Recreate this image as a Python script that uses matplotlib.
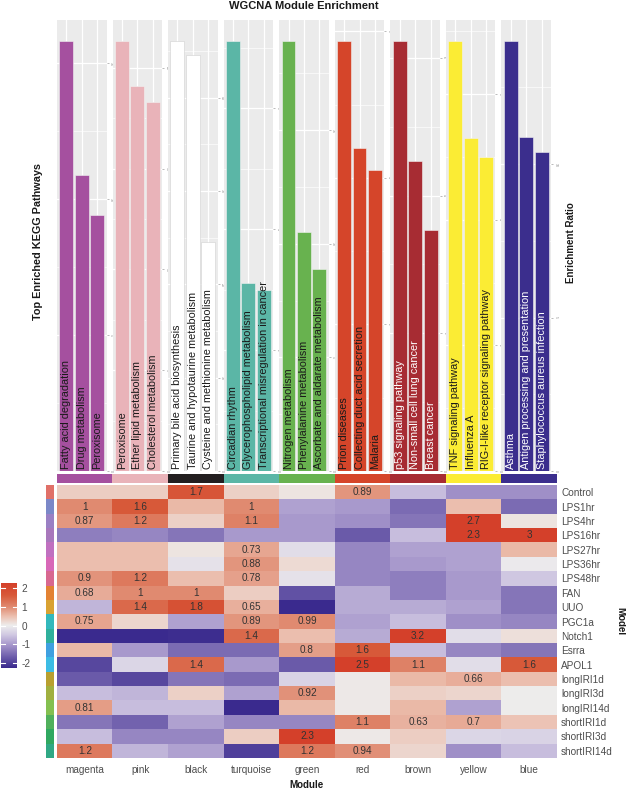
import matplotlib
matplotlib.use('Agg')
import matplotlib.pyplot as plt
import numpy as np
from matplotlib.colors import LinearSegmentedColormap, Normalize, to_rgb
from matplotlib.ticker import MultipleLocator

plt.rcParams['font.family'] = ['Liberation Sans', 'DejaVu Sans']
plt.rcParams['axes.unicode_minus'] = False

# ---------------- data ----------------
modules = ["magenta", "pink", "black", "turquoise", "green", "red", "brown", "yellow", "blue"]
module_colors = ["#A5509F", "#E9B3B9", "#FFFFFF", "#5BB6A6", "#68B24F", "#D5452A", "#A72C33", "#FBEC34", "#3B2E8D"]
strip_colors = ["#A5509F", "#E9B3B9", "#231F20", "#5BB6A6", "#68B24F", "#D5452A", "#A72C33", "#FBEC34", "#3B2E8D"]

path_magenta = ["Fatty acid degradation", "Drug metabolism", "Peroxisome"]
path_pink = ["Peroxisome", "Ether lipid metabolism", "Cholesterol metabolism"]
path_black = ["Primary bile acid biosynthesis", "Taurine and hypotaurine metabolism", "Cysteine and methionine metabolism"]
path_turquoise = ["Circadian rhythm", "Glycerophospholipid metabolism", "Transcriptional misregulation in cancer"]
path_green = ["Nitrogen metabolism", "Phenylalanine metabolism", "Ascorbate and aldarate metabolism"]
path_red = ["Prion diseases", "Collecting duct acid secretion", "Malaria"]
path_brown = ["p53 signaling pathway", "Non-small cell lung cancer", "Breast cancer"]
path_yellow = ["TNF signaling pathway", "Influenza A", "RIG-I-like receptor signaling pathway"]
path_blue = ["Asthma", "Antigen processing and presentation", "Staphylococcus aureus infection"]

er_magenta = [15.8, 10.9, 9.4]
er_pink = [21.3, 19.1, 18.3]
er_black = [46.0, 44.6, 24.5]
er_turquoise = [7.1, 3.1, 3.0]
er_green = [18.9, 10.5, 8.9]
er_red = [5.86, 4.4, 4.1]
er_brown = [6.24, 4.5, 3.5]
er_yellow = [6.84, 5.3, 5.0]
er_blue = [14.0, 10.9, 10.4]

models = ["Control", "LPS1hr", "LPS4hr", "LPS16hr", "LPS27hr", "LPS36hr", "LPS48hr", "FAN", "UUO",
          "PGC1a", "Notch1", "Esrra", "APOL1", "longIRI1d", "longIRI3d", "longIRI14d",
          "shortIRI1d", "shortIRI3d", "shortIRI14d"]
model_colors = ["#E07068", "#7B88C8", "#9A80C4", "#A878BC", "#C070C0", "#D868B8", "#D86890",
                "#E38233", "#D9A232", "#33B8BC", "#2FB09C", "#3FA0E0", "#3DBCE4", "#B8A030",
                "#A0B040", "#84C050", "#50B05C", "#30A860", "#30A884"]

# z-scores: rows = models, columns = modules
zscores = [
    [0.35, 0.35, 1.7, 0.3, 0.1, 0.89, -0.6, -1.1, -1.1],
    [1.0, 1.6, 0.55, 1.0, -0.9, -1.0, -1.5, 0.5, -1.5],
    [0.87, 1.2, 0.3, 1.1, -1.0, -1.1, -1.4, 2.7, 0.1],
    [-1.3, -1.2, -1.4, -1.0, -1.0, -1.7, -0.6, 2.3, 3.0],
    [0.5, 0.5, 0.1, 0.73, -0.2, -1.2, -0.9, -0.9, 0.55],
    [0.5, 0.5, -0.15, 0.88, 0.2, -1.2, -1.0, -0.9, -0.05],
    [0.9, 1.2, 0.5, 0.78, -0.15, -1.2, -1.3, -1.0, -0.5],
    [0.68, 1.0, 1.0, 0.35, -1.8, -0.8, -1.3, -1.0, -1.4],
    [-0.7, 1.4, 1.8, 0.65, -2.3, -0.8, -0.8, -0.9, -1.4],
    [0.75, 0.25, -0.9, 0.89, 0.99, -0.9, -0.6, -1.1, -1.2],
    [-2.3, -2.3, -2.2, 1.4, 0.5, -0.8, 3.2, -0.2, 0.15],
    [0.55, -1.0, -1.5, -1.5, 0.8, 1.6, -0.6, -1.2, -1.4],
    [-1.9, -0.3, 1.4, -1.0, -1.7, 2.5, 1.1, -0.2, 1.6],
    [-1.7, -1.9, -1.4, -1.5, -0.35, 0.05, 0.55, 0.66, 0.5],
    [-0.6, -0.7, 0.3, -0.9, 0.92, 0.05, 0.3, 0.25, 0.0],
    [0.81, -0.6, -0.6, -2.3, 0.55, 0.05, 0.55, -0.9, 0.0],
    [-1.4, -1.6, -0.9, -1.2, -1.2, 1.1, 0.63, 0.7, 0.45],
    [-0.6, -1.2, -1.2, 0.35, 2.3, 0.05, 0.35, -0.3, -0.35],
    [1.2, -0.7, -0.9, -2.0, 1.2, 0.94, 0.25, -1.1, -0.6],
]
label_threshold = 0.6
cbar_ticks = [2, 1, 0, -1, -2]

pathways = [path_magenta, path_pink, path_black, path_turquoise, path_green,
            path_red, path_brown, path_yellow, path_blue]
ratios = [er_magenta, er_pink, er_black, er_turquoise, er_green,
          er_red, er_brown, er_yellow, er_blue]
tick_steps = [5, 5, 10, 2, 5, 2, 2, 2, 5]

# ---------------- figure ----------------
W, H = 626, 791
fig = plt.figure(figsize=(W / 100, H / 100), dpi=100)


def rect(x0, y0, x1, y1):
    return [x0 / W, 1 - y1 / H, (x1 - x0) / W, (y1 - y0) / H]


heat_x0, heat_x1 = 57, 557
col_w = (heat_x1 - heat_x0) / len(modules)
panel_top, panel_bot = 20, 471
text_dark = "#1A1A1A"

for i, (names, vals) in enumerate(zip(pathways, ratios)):
    x0 = heat_x0 + i * col_w
    ax = fig.add_axes(rect(x0, panel_top, x0 + 49.5, panel_bot))
    ax.set_facecolor("#EBEBEB")
    xs = np.arange(len(vals))
    edge = "#D0D0D0" if module_colors[i] == "#FFFFFF" else "#F2F2F2"
    ax.bar(xs, vals, width=0.9, color=module_colors[i], edgecolor=edge, linewidth=0.4, zorder=3)
    ax.set_xlim(-0.6, len(vals) - 0.4)
    ax.set_ylim(0, max(vals) * 1.05)
    step = tick_steps[i]
    ax.yaxis.set_major_locator(MultipleLocator(step))
    ax.yaxis.set_minor_locator(MultipleLocator(step / 2))
    ax.set_xticks(xs)
    ax.grid(True, which="major", color="white", linewidth=0.9, zorder=0)
    ax.grid(True, which="minor", axis="y", color="white", linewidth=0.45, zorder=0)
    ax.set_axisbelow(True)
    for s in ax.spines.values():
        s.set_visible(False)
    ax.tick_params(axis="x", length=0, labelbottom=False)
    ax.yaxis.tick_right()
    ax.tick_params(axis="y", which="major", length=1.2, width=0.4, color="#888888",
                   labelsize=2.5, labelcolor="#888888", pad=0.6, labelrotation=270)
    ax.tick_params(axis="y", which="minor", length=0)
    tcol = "white" if module_colors[i] in ("#A72C33", "#3B2E8D") else text_dark
    for x, name in zip(xs, names):
        ax.annotate(name, xy=(x, 0), xytext=(0, 1.2), textcoords="offset points",
                    rotation=90, ha="center", va="bottom", fontsize=7.8, color=tcol,
                    zorder=5)

# module strip
ax_s = fig.add_axes(rect(heat_x0, 474, heat_x1, 483))
ax_s.imshow(np.array([[to_rgb(c) for c in strip_colors]]), aspect="auto", interpolation="nearest")
ax_s.axis("off")

# heatmap
vlim = 2.25
cmap = LinearSegmentedColormap.from_list("gb", [
    (0.0, "#3A2A8E"),
    ((vlim - 1.1) / (2 * vlim), "#A090C8"),
    ((vlim - 0.5) / (2 * vlim), "#D0C8E2"),
    (0.5, "#EEEDED"),
    ((vlim + 0.5) / (2 * vlim), "#ECBFAF"),
    ((vlim + 1.0) / (2 * vlim), "#E08A70"),
    ((vlim + 1.6) / (2 * vlim), "#D85A3A"),
    (1.0, "#D4402A"),
])
norm = Normalize(vmin=-vlim, vmax=vlim, clip=True)
Z = np.array(zscores)
ax_h = fig.add_axes(rect(heat_x0, 485, heat_x1, 758))
ax_h.imshow(Z, cmap=cmap, norm=norm, aspect="auto", interpolation="nearest")
for r in range(Z.shape[0]):
    for c in range(Z.shape[1]):
        v = Z[r, c]
        if v > label_threshold:
            ax_h.text(c, r, f"{v:.2g}", ha="center", va="center", fontsize=7.2, color="#333333")
ax_h.set_xticks(range(len(modules)))
ax_h.set_xticklabels(modules)
ax_h.set_yticks(range(len(models)))
ax_h.set_yticklabels(models)
ax_h.yaxis.tick_right()
ax_h.tick_params(length=0, labelsize=7.2, labelcolor="#4D4D4D")
ax_h.tick_params(axis="x", pad=5)
ax_h.tick_params(axis="y", pad=3)
for s in ax_h.spines.values():
    s.set_visible(False)

# model strip
ax_m = fig.add_axes(rect(46, 485, 54, 758))
ax_m.imshow(np.array([[to_rgb(c)] for c in model_colors]), aspect="auto", interpolation="nearest")
ax_m.axis("off")

# colorbar
ax_c = fig.add_axes(rect(1, 583, 17, 668))
grad = np.linspace(vlim, -vlim, 200).reshape(-1, 1)
ax_c.imshow(grad, cmap=cmap, norm=norm, aspect="auto", extent=(0, 1, -vlim, vlim))
for t in cbar_ticks:
    ax_c.plot([0, 0.22], [t, t], color="white", lw=0.8)
    ax_c.plot([0.78, 1], [t, t], color="white", lw=0.8)
ax_c.set_xlim(0, 1)
ax_c.set_ylim(-vlim, vlim)
ax_c.set_xticks([])
ax_c.yaxis.tick_right()
ax_c.set_yticks(cbar_ticks)
ax_c.set_yticklabels([str(t) for t in cbar_ticks])
ax_c.tick_params(axis="y", length=0, labelsize=7.2, labelcolor="#4D4D4D", pad=3)
for s in ax_c.spines.values():
    s.set_visible(False)

# titles
fig.text(303.5 / W, 1 - 6 / H, "WGCNA Module Enrichment", ha="center", va="center",
         fontsize=8, fontweight="bold", color="#1A1A1A")
fig.text(38 / W, 1 - 242 / H, "Top Enriched KEGG Pathways", ha="center", va="center",
         rotation=90, fontsize=7.8, fontweight="bold", color="#1A1A1A")
fig.text(571 / W, 1 - 243 / H, "Enrichment Ratio", ha="center", va="center",
         rotation=90, fontsize=7, fontweight="bold", color="#1A1A1A")
fig.text(307 / W, 1 - 785 / H, "Module", ha="center", va="center",
         fontsize=7, fontweight="bold", color="#1A1A1A")
fig.text(620 / W, 1 - 621 / H, "Model", ha="center", va="center",
         rotation=270, fontsize=7, fontweight="bold", color="#1A1A1A")

fig.savefig("out.png", dpi=100)
